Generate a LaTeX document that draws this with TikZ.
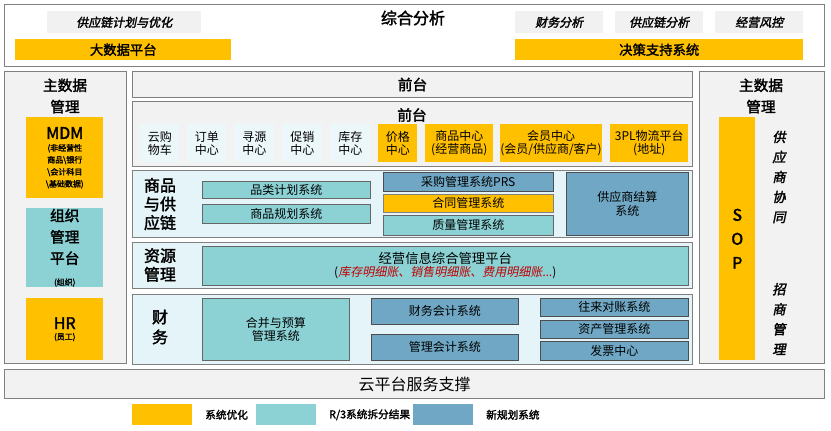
\documentclass[tikz,border=0pt]{standalone}
\usepackage{fontspec}
\setmainfont{Noto Sans CJK SC}
\newfontfamily\cjkit[FakeSlant=0.2]{Noto Sans CJK SC}
\newfontfamily\cjkbf[FakeBold=2]{Noto Sans CJK SC}
\newfontfamily\cjkbi[FakeBold=2,FakeSlant=0.2]{Noto Sans CJK SC}
\usetikzlibrary{positioning}
\definecolor{optyellow}{HTML}{FFC000}
\definecolor{splitteal}{HTML}{8CD2D5}
\definecolor{newsteel}{HTML}{6FA7C4}
\definecolor{lightbg}{HTML}{E4F4F8}
\definecolor{panelgray}{HTML}{F2F2F2}
\definecolor{edgegray}{HTML}{808080}
\newcommand\bsl{\symbol{92}}
\tikzset{
  panel/.style={draw=edgegray, fill=panelgray, line width=0.8pt},
  section/.style={draw=edgegray, fill=lightbg, line width=0.8pt},
  graybox/.style={fill=panelgray!80!gray!40},
  optbox/.style={fill=optyellow},
  splitbox/.style={fill=splitteal, draw=edgegray!80!black},
  newbox/.style={fill=newsteel, draw=edgegray!60!black},
  smallbox/.style={fill=lightbg!70!white},
}
% box from its corners, in pixels
\newcommand\blk[7]{\node[#6, anchor=north west, inner sep=0pt, align=center,
  minimum width={(#4-#2)*0.75pt}, minimum height={(#5-#3)*0.75pt}] (#1) at (#2,#3) {#7};}

\begin{document}
\begin{tikzpicture}[x=0.75pt, y=-0.75pt, font=\fontsize{9}{10}\selectfont]
\useasboundingbox[fill=white] (0,0) rectangle (831,431);

% top: analysis
\blk{ana}{4}{4}{824}{66}{draw=edgegray, fill=white, line width=0.8pt}{}
\node[font=\cjkbf\fontsize{12}{12}\selectfont] (anatitle) at (413,18) {综合分析};
\blk{scplan}{47}{11}{201}{33}{graybox}{\cjkbi 供应链计划与优化}
\blk{bigdata}{15}{39}{231}{60}{optbox}{\cjkbf\fontsize{10}{10}\selectfont 大数据平台}
\blk{finana}{515}{11}{603}{33}{graybox}{\cjkbi 财务分析}
\blk{scana}{615}{11}{703}{33}{graybox}{\cjkbi 供应链分析}
\blk{risk}{715}{11}{803}{33}{graybox}{\cjkbi 经营风控}
\blk{dss}{515}{39}{803}{60}{optbox}{\cjkbf\fontsize{10}{10}\selectfont 决策支持系统}

% left: master data
\blk{mdleft}{4}{71}{126}{363}{panel}{}
\node[font=\cjkbf\fontsize{11}{16}\selectfont, align=center] (mdltitle) at (65,96) {主数据\\管理};
\blk{mdm}{26}{117}{103}{198}{optbox, font=\cjkbf\fontsize{6}{9}\selectfont}{{\fontsize{12}{14}\selectfont MDM}\\(非经营性\\商品\bsl 银行\\{}\bsl 会计科目\\{}\bsl 基础数据)}
\blk{org}{26}{208}{103}{287}{fill=splitteal, font=\cjkbf\fontsize{11}{16}\selectfont}{组织\\管理\\平台\\{\fontsize{6}{8}\selectfont (组织)}}
\blk{hr}{26}{298}{103}{360}{optbox, font=\cjkbf\fontsize{6}{8}\selectfont}{{\fontsize{12}{14}\selectfont HR}\\(员工)}

% middle: front and middle office
\blk{front}{132}{71}{692}{97}{panel}{\cjkbf\fontsize{11}{11}\selectfont 前台}
\blk{mid}{132}{101}{692}{166}{panel}{}
\node[font=\cjkbf\fontsize{11}{11}\selectfont] (midtitle) at (412,115) {前台};
\blk{cart}{140}{124}{179}{162}{smallbox}{云购\\物车}
\blk{order}{187}{124}{226}{162}{smallbox}{订单\\中心}
\blk{source}{234}{124}{274}{162}{smallbox}{寻源\\中心}
\blk{promo}{282}{124}{322}{162}{smallbox}{促销\\中心}
\blk{stock}{330}{124}{370}{162}{smallbox}{库存\\中心}
\blk{price}{378}{124}{417}{162}{optbox}{价格\\中心}
\blk{goods}{425}{124}{493}{162}{optbox}{商品中心\\(经营商品)}
\blk{member}{500}{124}{592}{162}{optbox}{会员中心\\(会员/供应商/客户)}
\blk{logis}{610}{124}{688}{162}{optbox}{3PL物流平台\\(地址)}

% goods and supply chain
\blk{scsec}{132}{170}{692}{237}{section}{}
\node[font=\cjkbf\fontsize{12}{14}\selectfont, align=center] (sclabel) at (160,204) {商品\\与供\\应链};
\blk{catplan}{202}{181}{370}{198}{splitbox}{品类计划系统}
\blk{prodplan}{202}{204}{370}{223}{splitbox}{商品规划系统}
\blk{prs}{383}{172}{553}{191}{newbox}{采购管理系统PRS}
\blk{contract}{383}{194}{553}{212}{optbox, draw=edgegray}{合同管理系统}
\blk{quality}{383}{215}{553}{235}{splitbox}{质量管理系统}
\blk{settle}{566}{172}{688}{235}{newbox}{供应商结算\\系统}

% resource management
\blk{ressec}{132}{242}{692}{288}{section}{}
\node[font=\cjkbf\fontsize{12}{14}\selectfont, align=center] (reslabel) at (160,265) {资源\\管理};
\blk{bizinfo}{202}{246}{688}{285}{splitbox}{\fontsize{10}{13}\selectfont 经营信息综合管理平台\\(\textcolor{red!75!black}{\cjkit 库存明细账、销售明细账、费用明细账...})}

% finance
\blk{finsec}{132}{294}{692}{364}{section}{}
\node[font=\cjkbf\fontsize{12}{15}\selectfont, align=center] (finlabel) at (160,327) {财\\务};
\blk{budget}{202}{298}{349}{360}{splitbox}{合并与预算\\管理系统}
\blk{finacc}{371}{298}{518}{324}{newbox}{财务会计系统}
\blk{mgtacc}{371}{334}{518}{360}{newbox}{管理会计系统}
\blk{recon}{540}{298}{688}{316}{newbox}{往来对账系统}
\blk{asset}{540}{320}{688}{338}{newbox}{资产管理系统}
\blk{invoice}{540}{341}{688}{360}{newbox}{发票中心}

% right: master data
\blk{mdright}{699}{71}{824}{363}{panel}{}
\node[font=\cjkbf\fontsize{11}{16}\selectfont, align=center] (mdrtitle) at (761,96) {主数据\\管理};
\blk{sop}{719}{117}{755}{360}{optbox, font=\cjkbf\fontsize{12}{18}\selectfont}{S\\O\\P}
\node[font=\cjkbi\fontsize{10}{15}\selectfont, align=center] (suppco) at (779,177) {供\\应\\商\\协\\同};
\node[font=\cjkbi\fontsize{10}{15}\selectfont, align=center] (invest) at (779,319) {招\\商\\管\\理};

% cloud platform
\blk{cloud}{4}{369}{824}{398}{panel}{\fontsize{12}{12}\selectfont 云平台服务支撑}

% legend
\blk{legopt}{132}{404}{192}{425}{optbox}{}
\node[right=6pt of legopt, font=\cjkbf\fontsize{8}{8}\selectfont] (legopttext) {系统优化};
\blk{legsplit}{256}{404}{316}{425}{fill=splitteal}{}
\node[right=6pt of legsplit, font=\cjkbf\fontsize{8}{8}\selectfont] (legsplittext) {R/3系统拆分结果};
\blk{legnew}{413}{404}{473}{425}{fill=newsteel}{}
\node[right=6pt of legnew, font=\cjkbf\fontsize{8}{8}\selectfont] (legnewtext) {新规划系统};
\end{tikzpicture}
\end{document}
